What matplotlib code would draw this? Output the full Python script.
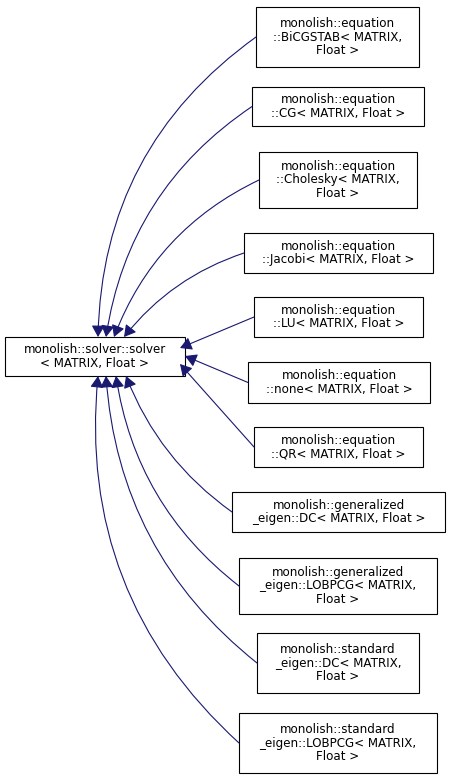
import matplotlib
matplotlib.use("Agg")
import matplotlib.pyplot as plt
from matplotlib.patches import Rectangle, FancyArrowPatch

base_label = "monolish::solver::solver\n< MATRIX, Float >"
labels = [
    "monolish::equation\n::BiCGSTAB< MATRIX,\nFloat >",
    "monolish::equation\n::CG< MATRIX, Float >",
    "monolish::equation\n::Cholesky< MATRIX,\nFloat >",
    "monolish::equation\n::Jacobi< MATRIX, Float >",
    "monolish::equation\n::LU< MATRIX, Float >",
    "monolish::equation\n::none< MATRIX, Float >",
    "monolish::equation\n::QR< MATRIX, Float >",
    "monolish::generalized\n_eigen::DC< MATRIX, Float >",
    "monolish::generalized\n_eigen::LOBPCG< MATRIX,\nFloat >",
    "monolish::standard\n_eigen::DC< MATRIX,\nFloat >",
    "monolish::standard\n_eigen::LOBPCG< MATRIX,\nFloat >",
]
# box layout (x0, y0, x1, y1) in pixels
boxes = [(256,7,419,67),(252,87,424,126),(259,152,417,208),(244,233,433,273),
         (254,297,423,337),(248,362,430,403),(254,427,423,467),(232,492,445,532),
         (239,558,437,614),(257,633,419,693),(239,713,437,773)]
base_box = (5,337,185,376)
targets = [(98,337),(106,337),(114,337),(124,337),(180,348),(185,356),(180,364),
           (126,376),(116,376),(106,376),(98,376)]
curv = [0.25,0.22,0.2,0.15,0.0,0.0,0.0,-0.15,-0.2,-0.22,-0.25]

fig = plt.figure(figsize=(4.51,7.81), dpi=100)
ax = fig.add_axes([0,0,1,1])
ax.set_xlim(0,451); ax.set_ylim(781,0); ax.axis("off")

def draw_box(b, text):
    x0,y0,x1,y1 = b
    ax.add_patch(Rectangle((x0,y0),x1-x0,y1-y0,fc="white",ec="black",lw=0.8))
    ax.text((x0+x1)/2,(y0+y1)/2,text,ha="center",va="center",fontsize=8.6,
            linespacing=1.05,family="DejaVu Sans")

draw_box(base_box, base_label)
for b, t, tg, c in zip(boxes, labels, targets, curv):
    draw_box(b, t)
    start = (b[0], (b[1]+b[3])/2)
    ax.add_patch(FancyArrowPatch(start, tg, connectionstyle=f"arc3,rad={c}",
        arrowstyle="-|>,head_length=7,head_width=4", color="#191970", lw=0.8,
        shrinkA=0, shrinkB=0))
fig.savefig("out.png", dpi=100)
